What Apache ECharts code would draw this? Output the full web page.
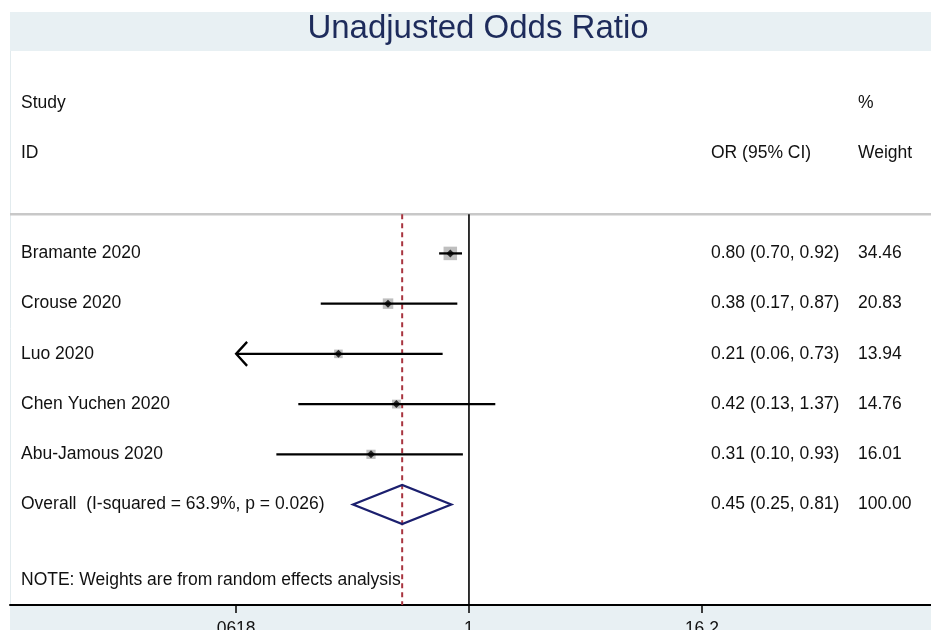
<!DOCTYPE html>
<html>
<head>
<meta charset="utf-8">
<script src="https://cdn.jsdelivr.net/npm/echarts@6/dist/echarts.min.js"></script>
<style>
  html, body { margin: 0; padding: 0; background: #ffffff; }
  #chart { width: 931px; height: 630px; }
</style>
</head>
<body>
<div id="chart"></div>
<script>
// Study-level odds ratios with 95% confidence intervals and random-effects weights
const studies = ['Bramante 2020', 'Crouse 2020', 'Luo 2020', 'Chen Yuchen 2020', 'Abu-Jamous 2020'];
const orEst = [0.80, 0.38, 0.21, 0.42, 0.31];
const ciLow = [0.70, 0.17, 0.06, 0.13, 0.10];
const ciHigh = [0.92, 0.87, 0.73, 1.37, 0.93];
const weights = [34.46, 20.83, 13.94, 14.76, 16.01];

// Pooled estimate
const overallLabel = 'Overall  (I-squared = 63.9%, p = 0.026)';
const overallEst = [0.45];
const overallLow = [0.25];
const overallHigh = [0.81];
const overallWeight = [100.00];

// Axis ticks (the interval plot is drawn between the outer ticks)
const tickValues = [0.0618, 1, 16.2];
const tickLabels = ['0618', '1', '16.2'];

const FONT = '"Liberation Sans", Arial, sans-serif';
const TEXT_SIZE = 17.5;
const X_MIN = 0.00414, X_MAX = 250.6;
const firstStudyRow = 4;
const overallRow = firstStudyRow + studies.length;
const headerLineRow = 3.22;
const noteRow = overallRow + 1.5;
const bottomRow = overallRow + 2;
const ciMin = tickValues[0], ciMax = tickValues[tickValues.length - 1];

const fmt = v => v.toFixed(2);
const rowOf = i => firstStudyRow + i;

const ciData = studies.map((s, i) => [ciLow[i], ciHigh[i], rowOf(i)]);
const boxData = studies.map((s, i) => [orEst[i], rowOf(i), weights[i]]);
const pointData = studies.map((s, i) => [orEst[i], rowOf(i)]);
const diamondData = [[overallLow[0], overallEst[0], overallHigh[0], overallRow]];

const chart = echarts.init(document.getElementById('chart'), null, { renderer: 'canvas' });

const option = {
  animation: false,
  backgroundColor: '#ffffff',
  grid: { left: 10, right: 0, top: 52.5, height: 552.5, containLabel: false, outerBoundsMode: 'none' },
  xAxis: {
    type: 'log',
    logBase: 10,
    position: 'bottom',
    min: X_MIN,
    max: X_MAX,
    axisLine: { show: true, onZero: false, lineStyle: { color: '#000', width: 2 } },
    axisTick: { show: true, customValues: tickValues, length: 8, inside: false, lineStyle: { color: '#000', width: 1.5 } },
    axisLabel: {
      show: true,
      customValues: tickValues,
      margin: 15,
      fontSize: TEXT_SIZE,
      fontFamily: FONT,
      color: '#111',
      formatter: function (v) {
        let best = 0;
        tickValues.forEach((t, k) => { if (Math.abs(Math.log(t) - Math.log(v)) < Math.abs(Math.log(tickValues[best]) - Math.log(v))) best = k; });
        return tickLabels[best];
      }
    },
    splitLine: { show: false }
  },
  yAxis: {
    type: 'value',
    min: 0,
    max: bottomRow,
    inverse: true,
    show: false,
    splitLine: { show: false }
  },
  series: [
    // Separator under the column headers
    {
      type: 'line', symbol: 'none', silent: true, z: 1,
      data: [[X_MIN, headerLineRow], [X_MAX, headerLineRow]],
      lineStyle: { color: '#c8c8c8', width: 2.5 }
    },
    // Line of no effect
    {
      type: 'line', symbol: 'none', silent: true, z: 1,
      data: [[1, headerLineRow], [1, bottomRow]],
      lineStyle: { color: '#000', width: 1.6 }
    },
    // Pooled estimate reference line
    {
      type: 'line', symbol: 'none', silent: true, z: 1,
      data: [[overallEst[0], headerLineRow], [overallEst[0], bottomRow]],
      lineStyle: { color: '#a8343f', width: 2, type: [5, 4] }
    },
    // Weight boxes (area proportional to weight)
    {
      type: 'custom', z: 3,
      encode: { x: 0, y: 1 },
      data: boxData,
      renderItem: function (params, api) {
        const c = api.coord([api.value(0), api.value(1)]);
        const side = 2.3 * Math.sqrt(api.value(2));
        return { type: 'rect', shape: { x: c[0] - side / 2, y: c[1] - side / 2, width: side, height: side }, style: { fill: '#bfbfbf' } };
      }
    },
    // Confidence intervals, with an arrow where the interval runs past the plotted range
    {
      type: 'custom', z: 4,
      encode: { x: [0, 1], y: 2 },
      data: ciData,
      renderItem: function (params, api) {
        const lo = api.value(0), hi = api.value(1), row = api.value(2);
        const p1 = api.coord([Math.max(lo, ciMin), row]);
        const p2 = api.coord([Math.min(hi, ciMax), row]);
        const children = [{ type: 'line', shape: { x1: p1[0], y1: p1[1], x2: p2[0], y2: p2[1] }, style: { stroke: '#000', lineWidth: 2.3 } }];
        if (lo < ciMin) {
          children.push({ type: 'polyline', shape: { points: [[p1[0] + 11, p1[1] - 12], [p1[0], p1[1]], [p1[0] + 11, p1[1] + 12]] }, style: { stroke: '#000', lineWidth: 2.3, fill: null } });
        }
        if (hi > ciMax) {
          children.push({ type: 'polyline', shape: { points: [[p2[0] - 11, p2[1] - 12], [p2[0], p2[1]], [p2[0] - 11, p2[1] + 12]] }, style: { stroke: '#000', lineWidth: 2.3, fill: null } });
        }
        return { type: 'group', children: children };
      }
    },
    // Point estimates
    {
      type: 'scatter', z: 5,
      symbol: 'diamond', symbolSize: [8, 8],
      itemStyle: { color: '#000' },
      data: pointData
    },
    // Pooled estimate diamond
    {
      type: 'custom', z: 4,
      encode: { x: [0, 1, 2], y: 3 },
      data: diamondData,
      renderItem: function (params, api) {
        const row = api.value(3);
        const l = api.coord([api.value(0), row]);
        const m = api.coord([api.value(1), row]);
        const r = api.coord([api.value(2), row]);
        const h = 19.5;
        return {
          type: 'polygon',
          shape: { points: [[l[0], l[1]], [m[0], m[1] - h], [r[0], r[1]], [m[0], m[1] + h]] },
          style: { fill: null, stroke: '#1b1f6e', lineWidth: 2.2 }
        };
      }
    }
  ]
};

chart.setOption(option);

// Text columns
const yOf = row => chart.convertToPixel({ gridIndex: 0 }, [1, row])[1];
const txt = (x, row, text, extra) => Object.assign({
  type: 'text', x: x, y: yOf(row), z: 20,
  style: { text: text, fill: '#111', font: TEXT_SIZE + 'px ' + FONT, textVerticalAlign: 'middle', textAlign: 'left' }
}, extra || {});

const COL_NAME = 21, COL_OR = 711, COL_W = 858;
const elements = [
  // Background bands for the title and the axis area
  { type: 'rect', z: -10, shape: { x: 10, y: 12, width: 921, height: 39 }, style: { fill: '#e8f0f3' } },
  { type: 'rect', z: -10, shape: { x: 10, y: 606, width: 921, height: 24 }, style: { fill: '#e8f0f3' } },
  { type: 'line', z: -9, shape: { x1: 10.5, y1: 51, x2: 10.5, y2: 606 }, style: { stroke: '#e2ebee', lineWidth: 1 } },
  { type: 'text', x: 478, y: 29, z: 20, style: { text: 'Unadjusted Odds Ratio', fill: '#1d2b5b', font: '33px ' + FONT, textAlign: 'center', textVerticalAlign: 'middle' } },
  txt(COL_NAME, 1, 'Study'),
  txt(COL_NAME, 2, 'ID'),
  txt(COL_OR, 2, 'OR (95% CI)'),
  txt(COL_W, 1, '%'),
  txt(COL_W, 2, 'Weight')
];
studies.forEach((s, i) => {
  elements.push(txt(COL_NAME, rowOf(i), s));
  elements.push(txt(COL_OR, rowOf(i), fmt(orEst[i]) + ' (' + fmt(ciLow[i]) + ', ' + fmt(ciHigh[i]) + ')'));
  elements.push(txt(COL_W, rowOf(i), fmt(weights[i])));
});
elements.push(txt(COL_NAME, overallRow, overallLabel));
elements.push(txt(COL_OR, overallRow, fmt(overallEst[0]) + ' (' + fmt(overallLow[0]) + ', ' + fmt(overallHigh[0]) + ')'));
elements.push(txt(COL_W, overallRow, fmt(overallWeight[0])));
elements.push(txt(COL_NAME, noteRow, 'NOTE: Weights are from random effects analysis'));

chart.setOption({ graphic: { elements: elements } });
</script>
</body>
</html>
